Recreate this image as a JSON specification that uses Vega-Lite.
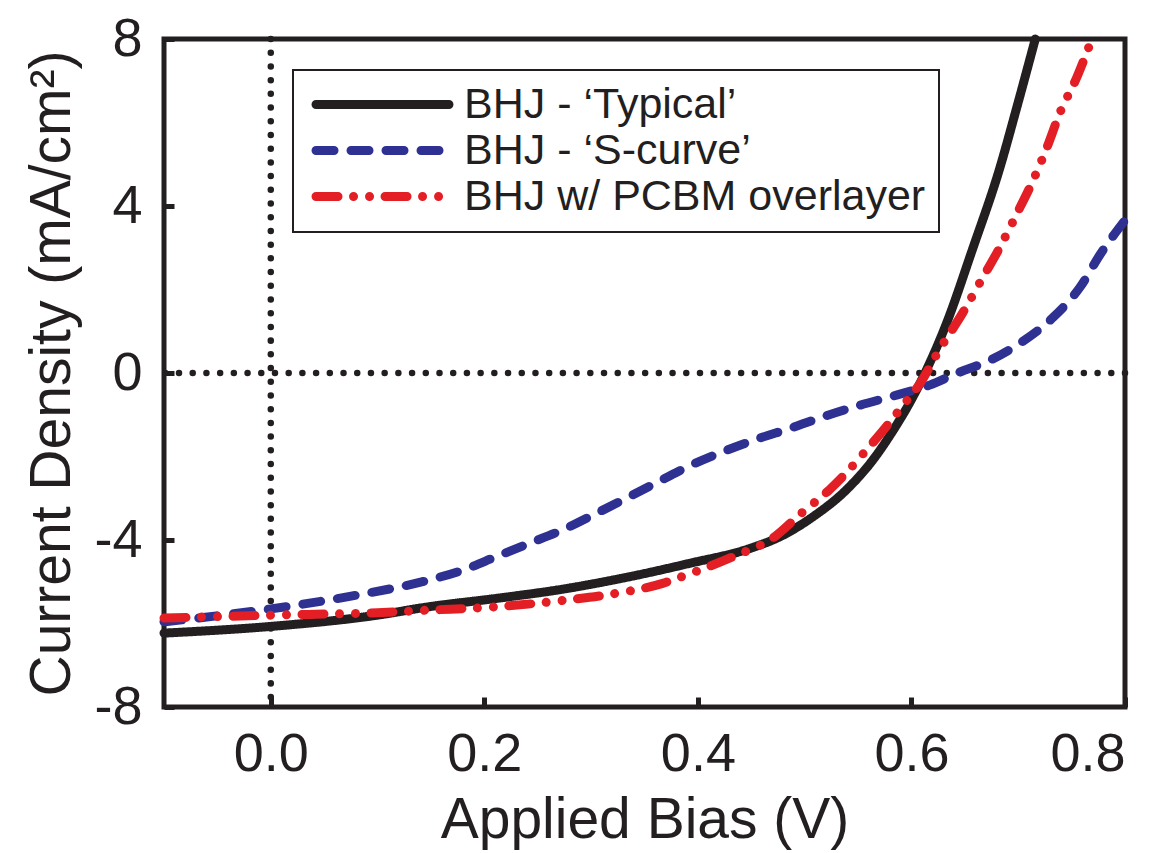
{
  "$schema": "https://vega.github.io/schema/vega-lite/v6.json",
  "width": 961,
  "height": 668,
  "autosize": "none",
  "padding": {"left": 164, "top": 39, "right": 45, "bottom": 146},
  "background": "white",
  "config": {
    "view": {"stroke": "#231F20", "strokeWidth": 5},
    "font": "Liberation Sans",
    "axis": {
      "domain": false,
      "grid": false,
      "tickSize": -10,
      "tickWidth": 5,
      "tickColor": "#231F20",
      "labelFont": "Liberation Sans",
      "labelFontSize": 54,
      "labelColor": "#231F20",
      "titleFont": "Liberation Sans",
      "titleFontSize": 57,
      "titleFontWeight": "normal",
      "titleColor": "#231F20"
    }
  },
  "layer": [
    {
      "data": {"values": [{"x": 0}]},
      "mark": {"type": "rule", "color": "#231F20", "strokeWidth": 6.5, "strokeDash": [0.01, 13.7], "strokeCap": "round"},
      "encoding": {
        "x": {"field": "x", "type": "quantitative", "title": "Applied Bias (V)", "scale": {"domain": [-0.1, 0.8], "nice": false, "zero": false}}
      }
    },
    {
      "data": {"values": [{"y": 0}]},
      "mark": {"type": "rule", "color": "#231F20", "strokeWidth": 6.5, "strokeDash": [0.01, 13.7], "strokeCap": "round"},
      "encoding": {
        "y": {"field": "y", "type": "quantitative", "title": "Current Density (mA/cm²)", "scale": {"domain": [-8, 8], "nice": false, "zero": false}}
      }
    },
    {
      "data": {
        "values": [
          {"series": "BHJ - ‘Typical’", "x": -0.1, "y": -6.23},
          {"series": "BHJ - ‘Typical’", "x": 0.0, "y": -6.07},
          {"series": "BHJ - ‘Typical’", "x": 0.1, "y": -5.8},
          {"series": "BHJ - ‘Typical’", "x": 0.148, "y": -5.6},
          {"series": "BHJ - ‘Typical’", "x": 0.211, "y": -5.4},
          {"series": "BHJ - ‘Typical’", "x": 0.273, "y": -5.18},
          {"series": "BHJ - ‘Typical’", "x": 0.336, "y": -4.88},
          {"series": "BHJ - ‘Typical’", "x": 0.392, "y": -4.56},
          {"series": "BHJ - ‘Typical’", "x": 0.449, "y": -4.2},
          {"series": "BHJ - ‘Typical’", "x": 0.477, "y": -3.92},
          {"series": "BHJ - ‘Typical’", "x": 0.508, "y": -3.44},
          {"series": "BHJ - ‘Typical’", "x": 0.539, "y": -2.8},
          {"series": "BHJ - ‘Typical’", "x": 0.564, "y": -2.08},
          {"series": "BHJ - ‘Typical’", "x": 0.583, "y": -1.37},
          {"series": "BHJ - ‘Typical’", "x": 0.598, "y": -0.73},
          {"series": "BHJ - ‘Typical’", "x": 0.611, "y": -0.09},
          {"series": "BHJ - ‘Typical’", "x": 0.633, "y": 1.2},
          {"series": "BHJ - ‘Typical’", "x": 0.657, "y": 2.95},
          {"series": "BHJ - ‘Typical’", "x": 0.683, "y": 4.93},
          {"series": "BHJ - ‘Typical’", "x": 0.698, "y": 6.3},
          {"series": "BHJ - ‘Typical’", "x": 0.716, "y": 8.0},
          {"series": "BHJ - ‘S-curve’", "x": -0.1, "y": -5.96},
          {"series": "BHJ - ‘S-curve’", "x": 0.0, "y": -5.65},
          {"series": "BHJ - ‘S-curve’", "x": 0.074, "y": -5.35},
          {"series": "BHJ - ‘S-curve’", "x": 0.148, "y": -4.96},
          {"series": "BHJ - ‘S-curve’", "x": 0.18, "y": -4.72},
          {"series": "BHJ - ‘S-curve’", "x": 0.211, "y": -4.4},
          {"series": "BHJ - ‘S-curve’", "x": 0.242, "y": -4.08},
          {"series": "BHJ - ‘S-curve’", "x": 0.273, "y": -3.76},
          {"series": "BHJ - ‘S-curve’", "x": 0.305, "y": -3.36},
          {"series": "BHJ - ‘S-curve’", "x": 0.336, "y": -2.96},
          {"series": "BHJ - ‘S-curve’", "x": 0.367, "y": -2.55},
          {"series": "BHJ - ‘S-curve’", "x": 0.39, "y": -2.25},
          {"series": "BHJ - ‘S-curve’", "x": 0.43, "y": -1.82},
          {"series": "BHJ - ‘S-curve’", "x": 0.458, "y": -1.56},
          {"series": "BHJ - ‘S-curve’", "x": 0.486, "y": -1.33},
          {"series": "BHJ - ‘S-curve’", "x": 0.517, "y": -1.05},
          {"series": "BHJ - ‘S-curve’", "x": 0.552, "y": -0.77},
          {"series": "BHJ - ‘S-curve’", "x": 0.586, "y": -0.53},
          {"series": "BHJ - ‘S-curve’", "x": 0.617, "y": -0.29},
          {"series": "BHJ - ‘S-curve’", "x": 0.643, "y": 0.0},
          {"series": "BHJ - ‘S-curve’", "x": 0.674, "y": 0.31},
          {"series": "BHJ - ‘S-curve’", "x": 0.702, "y": 0.72},
          {"series": "BHJ - ‘S-curve’", "x": 0.733, "y": 1.34},
          {"series": "BHJ - ‘S-curve’", "x": 0.758, "y": 2.06},
          {"series": "BHJ - ‘S-curve’", "x": 0.777, "y": 2.85},
          {"series": "BHJ - ‘S-curve’", "x": 0.8, "y": 3.66},
          {"series": "BHJ w/ PCBM overlayer", "x": -0.1, "y": -5.87},
          {"series": "BHJ w/ PCBM overlayer", "x": 0.0, "y": -5.8},
          {"series": "BHJ w/ PCBM overlayer", "x": 0.1, "y": -5.74},
          {"series": "BHJ w/ PCBM overlayer", "x": 0.148, "y": -5.68},
          {"series": "BHJ w/ PCBM overlayer", "x": 0.211, "y": -5.6},
          {"series": "BHJ w/ PCBM overlayer", "x": 0.273, "y": -5.45},
          {"series": "BHJ w/ PCBM overlayer", "x": 0.323, "y": -5.28},
          {"series": "BHJ w/ PCBM overlayer", "x": 0.367, "y": -5.04},
          {"series": "BHJ w/ PCBM overlayer", "x": 0.389, "y": -4.84},
          {"series": "BHJ w/ PCBM overlayer", "x": 0.433, "y": -4.4},
          {"series": "BHJ w/ PCBM overlayer", "x": 0.473, "y": -3.9},
          {"series": "BHJ w/ PCBM overlayer", "x": 0.495, "y": -3.4},
          {"series": "BHJ w/ PCBM overlayer", "x": 0.523, "y": -2.8},
          {"series": "BHJ w/ PCBM overlayer", "x": 0.536, "y": -2.47},
          {"series": "BHJ w/ PCBM overlayer", "x": 0.558, "y": -1.84},
          {"series": "BHJ w/ PCBM overlayer", "x": 0.58, "y": -1.17},
          {"series": "BHJ w/ PCBM overlayer", "x": 0.591, "y": -0.81},
          {"series": "BHJ w/ PCBM overlayer", "x": 0.608, "y": -0.25},
          {"series": "BHJ w/ PCBM overlayer", "x": 0.626, "y": 0.55},
          {"series": "BHJ w/ PCBM overlayer", "x": 0.648, "y": 1.44},
          {"series": "BHJ w/ PCBM overlayer", "x": 0.664, "y": 2.16},
          {"series": "BHJ w/ PCBM overlayer", "x": 0.683, "y": 3.02},
          {"series": "BHJ w/ PCBM overlayer", "x": 0.699, "y": 3.83},
          {"series": "BHJ w/ PCBM overlayer", "x": 0.714, "y": 4.62},
          {"series": "BHJ w/ PCBM overlayer", "x": 0.727, "y": 5.41},
          {"series": "BHJ w/ PCBM overlayer", "x": 0.739, "y": 6.23},
          {"series": "BHJ w/ PCBM overlayer", "x": 0.755, "y": 7.09},
          {"series": "BHJ w/ PCBM overlayer", "x": 0.769, "y": 8.0}
        ]
      },
      "mark": {"type": "line", "strokeWidth": 9, "strokeCap": "round", "strokeJoin": "round", "interpolate": "monotone"},
      "encoding": {
        "x": {
          "field": "x", "type": "quantitative", "title": "Applied Bias (V)",
          "scale": {"domain": [-0.1, 0.8], "nice": false, "zero": false},
          "axis": {"values": [0, 0.2, 0.4, 0.6, 0.8], "labelExpr": "format(datum.value, '.1f')", "labelPadding": 30, "titlePadding": 11}
        },
        "y": {
          "field": "y", "type": "quantitative", "title": "Current Density (mA/cm²)",
          "scale": {"domain": [-8, 8], "nice": false, "zero": false},
          "axis": {"values": [-8, -4, 0, 4, 8], "labelExpr": "'' + datum.value", "labelPadding": 32, "titlePadding": 12}
        },
        "color": {
          "field": "series", "type": "nominal",
          "scale": {"domain": ["BHJ - ‘Typical’", "BHJ - ‘S-curve’", "BHJ w/ PCBM overlayer"], "range": ["#231F20", "#2E3192", "#E31E24"]},
          "legend": {
            "orient": "none", "legendX": 129, "legendY": 31, "title": null,
            "labelFontSize": 43, "labelFont": "Liberation Sans", "labelColor": "#231F20", "labelLimit": 0,
            "symbolType": "M-4,0H4", "symbolSize": 1105, "symbolStrokeWidth": 9, "symbolOffset": 55, "labelOffset": 60,
            "padding": 13, "strokeColor": "#231F20", "rowPadding": 2,
            "encode": {"legend": {"update": {"strokeWidth": {"value": 2}}}, "symbols": {"update": {"strokeCap": {"value": "round"}}}}
          }
        },
        "strokeDash": {
          "field": "series", "type": "nominal",
          "scale": {"domain": ["BHJ - ‘Typical’", "BHJ - ‘S-curve’", "BHJ w/ PCBM overlayer"], "range": [[1, 0], [18, 17], [22, 15.5, 0.01, 16, 0.01, 15.5]]},
          "legend": {
            "orient": "none", "legendX": 129, "legendY": 31, "title": null,
            "labelFontSize": 43, "labelFont": "Liberation Sans", "labelColor": "#231F20", "labelLimit": 0,
            "symbolType": "M-4,0H4", "symbolSize": 1105, "symbolStrokeWidth": 9, "symbolOffset": 55, "labelOffset": 60,
            "padding": 13, "strokeColor": "#231F20", "rowPadding": 2,
            "encode": {"legend": {"update": {"strokeWidth": {"value": 2}}}, "symbols": {"update": {"strokeCap": {"value": "round"}}}}
          }
        }
      }
    }
  ]
}
